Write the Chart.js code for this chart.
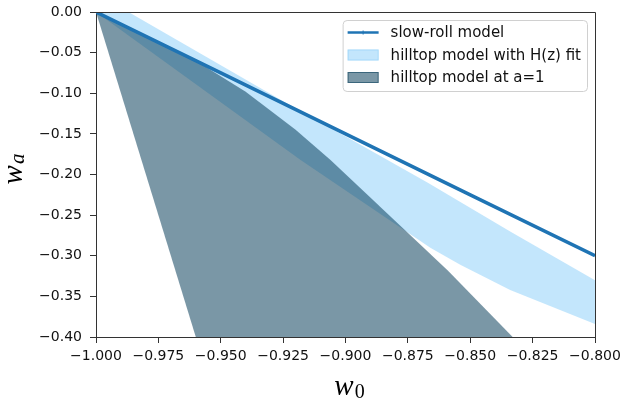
<!DOCTYPE html>
<html>
<head>
<meta charset="utf-8">
<script src="https://cdn.jsdelivr.net/npm/chart.js@4"></script>
<style>
  html, body { margin: 0; padding: 0; background: #fff; }
  #wrap { width: 621px; height: 407px; position: relative; }
</style>
</head>
<body>
<div id="wrap"><canvas id="wChart"></canvas></div>
<script>
// slow-roll model, w_a against w_0
const slowRollW0 = [-1.0, -0.95, -0.9, -0.85, -0.8];
const slowRollWa = [0.0, -0.075, -0.15, -0.225, -0.30];

// hilltop model with H(z) fit: band edges
const hzUpperW0 = [-0.987, -0.926, -0.867, -0.834, -0.8];
const hzUpperWa = [0.0, -0.108, -0.210, -0.270, -0.330];
const hzLowerW0 = [-1.0, -0.918, -0.866, -0.854, -0.834, -0.8];
const hzLowerWa = [0.0, -0.182, -0.290, -0.311, -0.342, -0.384];

// hilltop model at a=1: region edges
const a1UpperW0 = [-1.0, -0.96, -0.94, -0.92, -0.906, -0.859, -0.833];
const a1UpperWa = [0.0, -0.060, -0.098, -0.145, -0.182, -0.318, -0.40];
const a1LeftW0 = [-1.0, -0.96];
const a1LeftWa = [0.0, -0.40];

const xTickValues = [-1.0, -0.975, -0.95, -0.925, -0.9, -0.875, -0.85, -0.825, -0.8];
const xTickLabels = ['\u22121.000', '\u22120.975', '\u22120.950', '\u22120.925', '\u22120.900', '\u22120.875', '\u22120.850', '\u22120.825', '\u22120.800'];
const yTickValues = [-0.40, -0.35, -0.30, -0.25, -0.20, -0.15, -0.10, -0.05, 0.0];
const yTickLabels = ['\u22120.40', '\u22120.35', '\u22120.30', '\u22120.25', '\u22120.20', '\u22120.15', '\u22120.10', '\u22120.05', '0.00'];

function toPoints(xs, ys) {
    return xs.map((x, i) => ({ x: x, y: ys[i] }));
}

const slowRollPts = toPoints(slowRollW0, slowRollWa);
const hzPoly = toPoints(hzLowerW0, hzLowerWa).concat(toPoints(hzUpperW0, hzUpperWa).reverse());
hzPoly.push(hzPoly[0]);
const a1Poly = toPoints(a1UpperW0, a1UpperWa).concat(toPoints(a1LeftW0, a1LeftWa).reverse());

const LINE_BLUE = '#1f74b4';
const HZ_FILL = 'rgba(135, 206, 250, 0.5)';
const A1_FILL = 'rgba(0, 55, 85, 0.52)';
const AXIS_COL = '#333';

// draws the top/right spines, legend box and the math axis titles
const frameAndLegend = {
    id: 'frameAndLegend',
    afterDraw(chart) {
        const ctx = chart.ctx;
        const a = chart.chartArea;
        ctx.save();

        ctx.strokeStyle = AXIS_COL;
        ctx.lineWidth = 1;
        ctx.beginPath();
        ctx.moveTo(a.left, a.top + 0.5);
        ctx.lineTo(a.right + 0.5, a.top + 0.5);
        ctx.lineTo(a.right + 0.5, a.bottom);
        ctx.stroke();

        // legend
        ctx.font = '15px "DejaVu Sans"';
        const sets = chart.data.datasets;
        const textW = Math.max(...sets.map(d => ctx.measureText(d.label).width));
        const boxW = 5 + 31 + 12 + textW + 6;
        const boxH = 71;
        const boxX = a.right - 8 - boxW;
        const boxY = a.top + 8;
        ctx.beginPath();
        ctx.roundRect(boxX + 0.5, boxY + 0.5, boxW, boxH, 4);
        ctx.fillStyle = 'rgba(255,255,255,0.8)';
        ctx.fill();
        ctx.strokeStyle = '#d0d0d0';
        ctx.stroke();

        sets.forEach((d, i) => {
            const cy = boxY + 12.5 + i * 22.5;
            const hx = boxX + 5;
            if (d.fill === false) {
                ctx.strokeStyle = d.borderColor;
                ctx.lineWidth = 2.5;
                ctx.beginPath();
                ctx.moveTo(hx, cy);
                ctx.lineTo(hx + 31, cy);
                ctx.stroke();
                ctx.lineWidth = 1;
                ctx.beginPath();
                ctx.moveTo(hx + 15.5, cy - 2);
                ctx.lineTo(hx + 15.5, cy + 2);
                ctx.stroke();
            } else {
                ctx.fillStyle = d.backgroundColor;
                ctx.fillRect(hx, cy - 5.5, 31, 11);
                ctx.strokeStyle = d.backgroundColor;
                ctx.lineWidth = 1;
                ctx.strokeRect(hx + 0.5, cy - 5, 30, 10);
            }
            ctx.fillStyle = '#111';
            ctx.textBaseline = 'middle';
            ctx.textAlign = 'left';
            ctx.fillText(d.label, hx + 31 + 12, cy + 1);
        });

        // axis titles
        const mainFont = 'italic 29px "Liberation Serif"';
        function mathLabel(main, sub, subFont, cx, baseline, subDrop) {
            ctx.font = mainFont;
            const mw = ctx.measureText(main).width;
            ctx.font = subFont;
            const sw = ctx.measureText(sub).width;
            const x0 = cx - (mw + sw + 1) / 2;
            ctx.textAlign = 'left';
            ctx.textBaseline = 'alphabetic';
            ctx.fillStyle = '#000';
            ctx.font = mainFont;
            ctx.fillText(main, x0, baseline);
            ctx.font = subFont;
            ctx.fillText(sub, x0 + mw + 1, baseline + subDrop);
        }
        mathLabel('w', '0', '20px "Liberation Serif"', (a.left + a.right) / 2 + 4, 395, 3);
        ctx.save();
        ctx.translate(22, 169);
        ctx.rotate(-Math.PI / 2);
        mathLabel('w', 'a', 'italic 21px "Liberation Serif"', 0, 0, 2);
        ctx.restore();

        ctx.restore();
    }
};

// keep the plot box where the reference has it: drop the automatic label overhang padding
function noOverhang(scale) {
    scale.paddingTop = 0;
    scale.paddingBottom = 0;
    scale.paddingLeft = 0;
    scale.paddingRight = 0;
}

new Chart(document.getElementById('wChart').getContext('2d'), {
    type: 'line',
    data: {
        datasets: [
            {
                label: 'slow-roll model',
                data: slowRollPts,
                borderColor: LINE_BLUE,
                borderWidth: 3.5,
                pointRadius: 0,
                fill: false,
                order: 0
            },
            {
                label: 'hilltop model with H(z) fit',
                data: hzPoly,
                borderColor: 'rgba(0,0,0,0)',
                borderWidth: 0,
                backgroundColor: HZ_FILL,
                pointRadius: 0,
                fill: 'shape',
                order: 2
            },
            {
                label: 'hilltop model at a=1',
                data: a1Poly,
                borderColor: 'rgba(0,0,0,0)',
                borderWidth: 0,
                backgroundColor: A1_FILL,
                pointRadius: 0,
                fill: 'shape',
                order: 1
            }
        ]
    },
    options: {
        responsive: true,
        maintainAspectRatio: false,
        animation: false,
        layout: { padding: { top: 12, right: 26, left: 0, bottom: 0 } },
        plugins: {
            legend: { display: false },
            tooltip: { enabled: false }
        },
        elements: { line: { tension: 0 } },
        scales: {
            x: {
                type: 'linear',
                min: -1.0,
                max: -0.8,
                afterBuildTicks: (scale) => { scale.ticks = xTickValues.map(v => ({ value: v })); },
                afterFit: (scale) => { scale.height = 70; noOverhang(scale); },
                ticks: {
                    autoSkip: false,
                    maxRotation: 0,
                    padding: 5,
                    color: '#111',
                    font: { family: 'DejaVu Sans', size: 14 },
                    callback: (value, index) => xTickLabels[index]
                },
                grid: { drawOnChartArea: false, drawTicks: true, tickLength: 6, color: AXIS_COL },
                border: { display: true, color: AXIS_COL, width: 1 }
            },
            y: {
                type: 'linear',
                min: -0.4,
                max: 0.0,
                afterBuildTicks: (scale) => { scale.ticks = yTickValues.map(v => ({ value: v })); },
                afterFit: (scale) => { scale.width = 96; noOverhang(scale); },
                ticks: {
                    padding: 8,
                    color: '#111',
                    font: { family: 'DejaVu Sans', size: 14 },
                    callback: (value, index) => yTickLabels[index]
                },
                grid: { drawOnChartArea: false, drawTicks: true, tickLength: 6, color: AXIS_COL },
                border: { display: true, color: AXIS_COL, width: 1 }
            }
        }
    },
    plugins: [frameAndLegend]
});
</script>
</body>
</html>
